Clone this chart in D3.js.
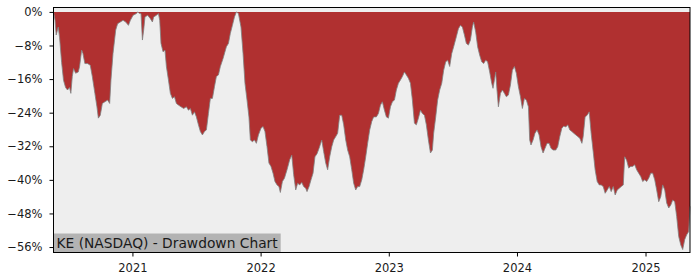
<!DOCTYPE html>
<html>
<head>
<meta charset="utf-8">
<script src="https://cdn.jsdelivr.net/npm/d3@7"></script>
<style>
  body { margin: 0; background: #fff; }
  svg { display: block; font-family: 'DejaVu Sans', sans-serif; }
</style>
</head>
<body>
<svg id="graph"></svg>
<script>
// dates as decimal years, drawdown in %
const years = [
  2020.386, 2020.398, 2020.407, 2020.423, 2020.433, 2020.449, 2020.464, 2020.480, 2020.495, 2020.511,
  2020.521, 2020.532, 2020.542, 2020.558, 2020.579, 2020.589, 2020.605, 2020.615, 2020.630, 2020.651,
  2020.672, 2020.688, 2020.708, 2020.724, 2020.735, 2020.750, 2020.766, 2020.786, 2020.807, 2020.823,
  2020.833, 2020.849, 2020.870, 2020.885, 2020.906, 2020.927, 2020.948, 2020.969, 2020.984, 2021.005,
  2021.031, 2021.041, 2021.057, 2021.067, 2021.078, 2021.088, 2021.098, 2021.119, 2021.140, 2021.156,
  2021.166, 2021.187, 2021.203, 2021.213, 2021.223, 2021.239, 2021.254, 2021.265, 2021.281, 2021.296,
  2021.312, 2021.328, 2021.343, 2021.359, 2021.379, 2021.400, 2021.421, 2021.437, 2021.452, 2021.468,
  2021.484, 2021.499, 2021.515, 2021.530, 2021.546, 2021.562, 2021.577, 2021.593, 2021.608, 2021.624,
  2021.640, 2021.655, 2021.671, 2021.686, 2021.707, 2021.733, 2021.749, 2021.764, 2021.780, 2021.796,
  2021.811, 2021.827, 2021.847, 2021.863, 2021.878, 2021.894, 2021.909, 2021.920, 2021.936, 2021.952,
  2021.967, 2021.983, 2022.003, 2022.019, 2022.034, 2022.050, 2022.065, 2022.081, 2022.097, 2022.112,
  2022.128, 2022.143, 2022.154, 2022.170, 2022.186, 2022.206, 2022.227, 2022.243, 2022.258, 2022.274,
  2022.289, 2022.305, 2022.321, 2022.336, 2022.352, 2022.362, 2022.378, 2022.393, 2022.409, 2022.424,
  2022.440, 2022.456, 2022.477, 2022.492, 2022.508, 2022.523, 2022.539, 2022.555, 2022.570, 2022.586,
  2022.601, 2022.617, 2022.633, 2022.648, 2022.664, 2022.679, 2022.695, 2022.711, 2022.726, 2022.742,
  2022.757, 2022.773, 2022.789, 2022.804, 2022.820, 2022.835, 2022.851, 2022.867, 2022.882, 2022.903,
  2022.919, 2022.935, 2022.950, 2022.966, 2022.981, 2022.997, 2023.013, 2023.028, 2023.044, 2023.059,
  2023.075, 2023.091, 2023.106, 2023.122, 2023.137, 2023.153, 2023.169, 2023.184, 2023.200, 2023.215,
  2023.231, 2023.247, 2023.262, 2023.278, 2023.293, 2023.309, 2023.325, 2023.340, 2023.350, 2023.366,
  2023.381, 2023.397, 2023.413, 2023.428, 2023.444, 2023.459, 2023.475, 2023.491, 2023.506, 2023.527,
  2023.543, 2023.559, 2023.574, 2023.590, 2023.605, 2023.621, 2023.637, 2023.652, 2023.662, 2023.678,
  2023.693, 2023.709, 2023.725, 2023.740, 2023.756, 2023.771, 2023.787, 2023.803, 2023.813, 2023.824,
  2023.834, 2023.844, 2023.855, 2023.871, 2023.886, 2023.902, 2023.917, 2023.933, 2023.949, 2023.964,
  2023.980, 2023.995, 2024.011, 2024.027, 2024.042, 2024.058, 2024.073, 2024.089, 2024.099, 2024.109,
  2024.125, 2024.140, 2024.156, 2024.172, 2024.187, 2024.203, 2024.218, 2024.234, 2024.250, 2024.265,
  2024.281, 2024.302, 2024.317, 2024.333, 2024.349, 2024.364, 2024.380, 2024.395, 2024.411, 2024.427,
  2024.442, 2024.458, 2024.473, 2024.489, 2024.505, 2024.515, 2024.530, 2024.546, 2024.562, 2024.577,
  2024.593, 2024.608, 2024.624, 2024.640, 2024.655, 2024.671, 2024.686, 2024.702, 2024.718, 2024.733,
  2024.749, 2024.764, 2024.780, 2024.796, 2024.811, 2024.827, 2024.838, 2024.853, 2024.869, 2024.885,
  2024.900, 2024.916, 2024.931, 2024.947, 2024.963, 2024.978, 2024.994, 2025.009, 2025.025, 2025.041,
  2025.056, 2025.072, 2025.087, 2025.103, 2025.119, 2025.134, 2025.150, 2025.165, 2025.181, 2025.197,
  2025.212, 2025.228, 2025.243, 2025.259, 2025.275, 2025.290, 2025.306, 2025.321, 2025.337, 2025.347
]
const drawdown = [
  0, -2, -5.5, -3.6, -6, -12, -16.3, -18, -18.6, -18,
  -19.4, -15.4, -13.5, -14.6, -14.3, -13, -9.1, -9.9, -12.3, -12.3,
  -12.7, -15.4, -19.4, -22.6, -25.3, -24.6, -21.8, -21.4, -21, -21.8,
  -16.2, -9.9, -4.3, -2.8, -2.4, -2, -2.4, -3.2, -2, -0.8,
  -0.4, 0, -0.4, -0.4, -6.7, -4.3, -1.2, -0.8, -1.6, -2.4,
  -1.2, -0.8, -0.4, -2, -7.5, -9.5, -9.1, -13, -16.2, -19.4,
  -20.6, -20.2, -21.8, -22.2, -22.6, -23, -22.6, -23.4, -23, -24.6,
  -23.8, -25, -26.9, -28.5, -29.3, -28.5, -28.1, -24.2, -20.6, -20.6,
  -17.8, -15.4, -15, -13, -11.1, -8.3, -7.5, -5.1, -3.2, -1.2,
  0, -0.4, -3.6, -9.9, -17, -21, -25, -30.5, -30.9, -30.5,
  -31.3, -29.3, -27.7, -27.3, -28.5, -32.1, -36, -36.8, -38.4, -40.4,
  -41.2, -41.6, -43, -40.4, -39.6, -37.6, -35.2, -34.1, -38.8, -42.4,
  -40.8, -41.2, -40.6, -41.6, -42, -42.8, -41.6, -40, -38.4, -34.5,
  -33.8, -32.5, -30.5, -33.3, -36, -37.6, -34.5, -32.1, -30.5, -29.7,
  -28.9, -24.6, -24.6, -26.9, -30.5, -32.9, -34.5, -37.6, -40.8, -42.4,
  -41.6, -41.6, -40, -37.6, -34.5, -31.3, -28.1, -26.1, -25, -25,
  -24.2, -22.2, -21.4, -23.4, -25, -25.3, -22.6, -21.4, -21, -18.6,
  -17, -16.2, -15.4, -14.3, -15, -15.8, -17, -21, -26.5, -26.9,
  -25.3, -23.4, -24.2, -24.6, -26.9, -30.5, -33.6, -32.9, -28.9, -25,
  -21, -18.6, -17, -13.9, -11.9, -11.5, -13, -9.9, -8.3, -5.9,
  -4, -3.2, -3.6, -5.5, -7.5, -7.9, -6.7, -3.6, -2.4, -4.8,
  -8.3, -10.3, -11.9, -12.3, -11.5, -11.9, -14.3, -17, -18.2, -16.2,
  -14.3, -18.6, -22.6, -19.4, -18.6, -19.4, -20.2, -19.8, -17.4, -13.9,
  -13, -14.6, -17.8, -20.2, -23, -20.6, -21, -22.6, -30.5, -31.7,
  -30.5, -28.9, -28.1, -29.3, -32.1, -33.6, -32.5, -31.3, -31.3, -32.5,
  -32.9, -32.9, -32.1, -29.7, -27.7, -27.2, -27.4, -26.9, -28.1, -28.5,
  -28.9, -29.3, -29.7, -30.1, -31.3, -29.7, -25, -24.6, -23.8, -28.9,
  -33.3, -37.6, -40.4, -41.2, -41.2, -41.6, -43.2, -42.4, -41.6, -42.8,
  -41.6, -43.6, -42.4, -42, -41.6, -41.2, -34.5, -35.3, -37.2, -36.8,
  -36.8, -36.4, -37.6, -38.4, -39.2, -40.4, -40, -40.4, -39.6, -38.4,
  -38.4, -40, -42.4, -45.2, -44, -41.2, -42.4, -45.5, -46.7, -46,
  -44.8, -45.2, -48.7, -53.5, -55.5, -56.6, -54.2, -53.1, -52.3, -46.3
]
const yTicks = [0, -8, -16, -24, -32, -40, -48, -56]
const yearTicks = [2021, 2022, 2023, 2024, 2025]
const chartLabel = 'KE (NASDAQ) - Drawdown Chart'

const toDate = (fy) => {
  const y = Math.floor(fy)
  const start = Date.UTC(y, 0, 1)
  const end = Date.UTC(y + 1, 0, 1)
  return new Date(start + (fy - y) * (end - start))
}

const getChartConfig = () => {
  const width = 700
  const height = 280
  const margin = { top: 7.5, left: 53.5, bottom: 27.5, right: 10 }
  const bodyWidth = width - margin.left - margin.right
  const bodyHeight = height - margin.top - margin.bottom
  const container = d3.select('#graph')
  container.attr('width', width).attr('height', height)
  return { width, height, margin, bodyWidth, bodyHeight, container }
}

const getChartScale = (data, config) => {
  const { bodyWidth, bodyHeight } = config
  const xScale = d3
    .scaleUtc()
    .range([0, bodyWidth])
    .domain(d3.extent(data, (d) => d.date))
  const yScale = d3
    .scaleLinear()
    .range([bodyHeight, 0])
    .domain([-57.3, 1.05])
  return { xScale, yScale }
}

const drawArea = (data, scales, config) => {
  const { container, margin, bodyWidth, bodyHeight } = config
  const { xScale, yScale } = scales
  const body = container
    .append('g')
    .attr('transform', `translate(${margin.left},${margin.top})`)

  body
    .append('rect')
    .attr('width', bodyWidth)
    .attr('height', bodyHeight)
    .attr('fill', '#eeeeee')

  const area = d3
    .area()
    .x((d) => xScale(d.date))
    .y0(yScale(0))
    .y1((d) => yScale(d.value))

  const line = d3
    .line()
    .x((d) => xScale(d.date))
    .y((d) => yScale(d.value))

  body
    .append('path')
    .datum(data)
    .attr('fill', '#b03030')
    .attr('d', area)

  body
    .append('path')
    .datum(data)
    .attr('fill', 'none')
    .attr('stroke', '#808080')
    .attr('stroke-width', 0.8)
    .attr('d', line)

  // label box at bottom left
  const label = body.append('g')
  const txt = label
    .append('text')
    .attr('x', 3)
    .attr('y', bodyHeight - 5)
    .style('font-size', '13.8px')
    .attr('fill', '#1a1a1a')
    .text(chartLabel)
  const w = txt.node().getComputedTextLength()
  label
    .insert('rect', 'text')
    .attr('x', 0)
    .attr('y', bodyHeight - 19)
    .attr('width', w + 6)
    .attr('height', 19)
    .attr('fill', '#b3b3b3')

  body
    .append('rect')
    .attr('width', bodyWidth)
    .attr('height', bodyHeight)
    .attr('fill', 'none')
    .attr('stroke', '#000')
    .attr('stroke-width', 1)
}

const drawAxes = (scales, config) => {
  const { xScale, yScale } = scales
  const { container, margin, height } = config

  const axisX = d3
    .axisBottom(xScale)
    .tickValues(yearTicks.map((y) => new Date(Date.UTC(y, 0, 1))))
    .tickFormat(d3.utcFormat('%Y'))
    .tickSize(4)
    .tickPadding(7)
    .tickSizeOuter(0)

  const axisY = d3
    .axisLeft(yScale)
    .tickValues(yTicks)
    .tickFormat((v) => (v === 0 ? '0%' : '\u2212' + Math.abs(v) + '%'))
    .tickSize(4)
    .tickPadding(7)
    .tickSizeOuter(0)

  const gx = container
    .append('g')
    .attr('transform', `translate(${margin.left},${height - margin.bottom})`)
    .style('font-size', '11.5px')
    .style('font-family', 'DejaVu Sans')
    .call(axisX)

  const gy = container
    .append('g')
    .attr('transform', `translate(${margin.left},${margin.top})`)
    .style('font-size', '11.5px')
    .style('font-family', 'DejaVu Sans')
    .call(axisY)

  gx.select('.domain').remove()
  gy.select('.domain').remove()
  container.selectAll('.tick text').attr('fill', '#1a1a1a')
}

const drawChart = () => {
  const data = years.map((y, i) => ({ date: toDate(y), value: drawdown[i] }))
  const config = getChartConfig()
  const scales = getChartScale(data, config)
  drawArea(data, scales, config)
  drawAxes(scales, config)
}

drawChart()
</script>
</body>
</html>
